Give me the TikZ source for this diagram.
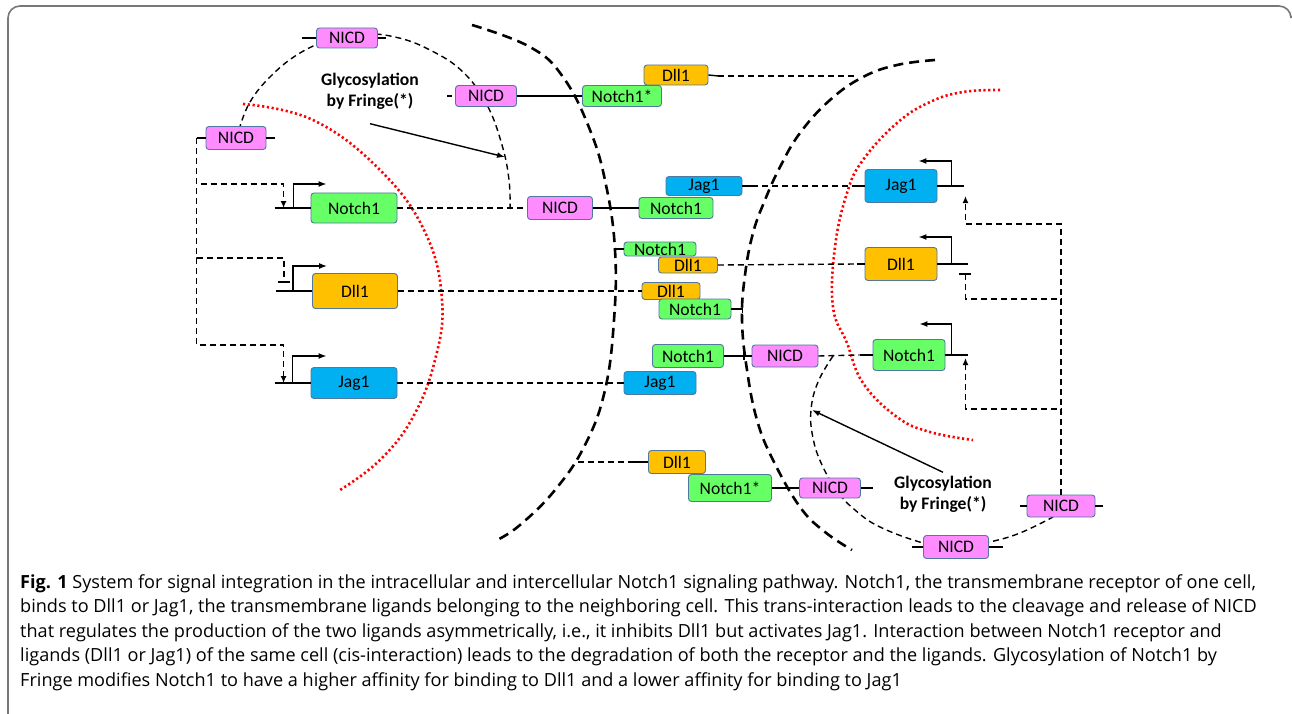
\documentclass[tikz,border=0pt]{standalone}
\usepackage{fontspec}
\setmainfont{Carlito}
\newfontfamily\capfont{Open Sans}
\usetikzlibrary{arrows.meta}

\definecolor{nicdpink}{RGB}{255,140,255}
\definecolor{notchgreen}{RGB}{102,255,102}
\definecolor{dllorange}{RGB}{255,192,0}
\definecolor{jagblue}{RGB}{0,176,240}
\definecolor{boxline}{RGB}{80,120,160}
\definecolor{framegray}{RGB}{120,120,120}

\tikzset{
  mol/.style={draw=boxline, line width=0.9pt, rounded corners=3pt, inner sep=0pt,
    font=\fontsize{17.6}{20}\selectfont},
  nicd/.style={mol, fill=nicdpink},
  notch/.style={mol, fill=notchgreen},
  dll/.style={mol, fill=dllorange},
  jag/.style={mol, fill=jagblue},
  dims/.style 2 args={minimum width=#1pt, minimum height=#2pt},
  link/.style={line width=1.4pt},
  sig/.style={line width=1.4pt, dash pattern=on 6pt off 4pt},
  membrane/.style={line width=2.6pt, dash pattern=on 10pt off 6pt},
  nucleus/.style={red, line width=2.6pt, dash pattern=on 2.2pt off 2.6pt},
  promoter/.style={line width=1.4pt, -{Latex[length=8pt,width=6pt]}},
  act/.style={sig, -{Latex[length=7pt,width=6pt]}},
  inh/.style={sig, -{Bar[width=12pt,line width=2pt]}},
  gly/.style={font=\fontsize{17.6}{21}\selectfont\bfseries, align=center},
}

\begin{document}
\begin{tikzpicture}[x=1pt, y=-1pt]
    \useasboundingbox (0,0) rectangle (1292,714);

    % Frame of the figure
    \draw[framegray, line width=1.6pt, rounded corners=12pt] (8,714) -- (8,6) -- (1291,6) -- (1291,16);

    % Nuclei as red dotted arcs
    \draw[nucleus] plot[smooth, tension=0.7] coordinates {(243,104) (313,120) (380,170) (425,232) (442,300) (435,360) (413,417) (380,460) (340,490)};
    \draw[nucleus] plot[smooth, tension=0.7] coordinates {(1000,90) (963,92) (930,102) (897,123) (863,160) (847,193) (835,247) (833,307) (847,343) (863,383) (897,417) (930,432) (973,440)};

    % Cell membranes
    \draw[membrane] plot[smooth, tension=0.7] coordinates {(472,25) (530,47) (563,77) (590,130) (606,185) (615,250) (614,320) (605,390) (585,445) (555,490) (520,525) (497,540)};
    \draw[membrane] plot[smooth, tension=0.7] coordinates {(935,60) (897,65) (863,77) (830,100) (800,133) (780,167) (765,200) (753,233) (745,275) (742,320) (747,370) (757,420) (773,460) (800,507) (825,532) (852,550)};

    % NICD loops through Fringe
    \draw[sig] plot[smooth, tension=0.7] coordinates {(239,130) (250,102) (272,75) (300,53) (330,40) (360,34) (395,37) (430,50) (463,72) (487,105) (502,145) (509,180) (510,209)};
    \draw[sig] plot[smooth, tension=0.7] coordinates {(833,356) (818,382) (811,410) (813,438) (822,465) (838,492) (855,510) (880,527) (923,543) (956,549) (990,542) (1020,533) (1053,517)};

    % Left cell
    \node[nicd, dims={61}{20}] (nicdTop) at (347,38) {NICD};
    \node[nicd, dims={60}{23}] (nicdL) at (236,138) {NICD};
    \node[notch, dims={86}{30}] (notchL) at (354,208) {Notch1};
    \node[dll, dims={85}{35}] (dllL) at (355,291) {Dll1};
    \node[jag, dims={86}{31}] (jagL) at (354,383) {Jag1};
    \node[gly] (glyL) at (370,91) {Glycosylation\\by Fringe(*)};
    \coordinate (glyTipL) at (505,157);

    % Between the cells
    \node[nicd, dims={61}{21}] (nicdG) at (486,96) {NICD};
    \node[notch, dims={79}{21}] (notchStarT) at (622,96) {Notch1*};
    \node[dll, dims={64}{20}] (dllT) at (676,75) {Dll1};
    \node[jag, dims={76}{19}] (jagM) at (704,186) {Jag1};
    \node[notch, dims={74}{21}] (notchM) at (676,208) {Notch1};
    \node[nicd, dims={65}{23}] (nicdM) at (560,208) {NICD};
    \node[notch, dims={72}{14}] (notchA) at (660,249) {Notch1};
    \node[dll, dims={59}{16}] (dllA) at (688,265) {Dll1};
    \node[dll, dims={58}{17}] (dllB) at (671,291) {Dll1};
    \node[notch, dims={72}{20}] (notchB) at (695,309) {Notch1};
    \node[notch, dims={71}{23}] (notchC) at (688,356) {Notch1};
    \node[nicd, dims={66}{22}] (nicdC) at (785,356) {NICD};
    \node[jag, dims={72}{23}] (jagB) at (660,383) {Jag1};
    \node[dll, dims={57}{23}] (dllBot) at (677,462) {Dll1};
    \node[notch, dims={83}{27}] (notchStarB) at (730,488) {Notch1*};
    \node[nicd, dims={61}{20}] (nicdBot) at (830,488) {NICD};
    \coordinate (memT) at (857,76);
    \coordinate (memL) at (578,462);

    % Right cell
    \node[jag, dims={72}{33}] (jagR) at (901,186) {Jag1};
    \node[dll, dims={72}{33}] (dllR) at (901,264) {Dll1};
    \node[notch, dims={72}{31}] (notchR) at (909,355) {Notch1};
    \node[nicd, dims={65}{23}] (nicdB) at (956,547) {NICD};
    \node[nicd, dims={68}{22}] (nicdBR) at (1061,506) {NICD};
    \node[gly] (glyR) at (943,494) {Glycosylation\\by Fringe(*)};
    \coordinate (glyTipR) at (812,410);

    % Stubs of the NICD boxes
    \draw[link] ([xshift=-14pt]nicdTop.west) -- (nicdTop.west);
    \draw[link] (nicdTop.east) -- ++(8,0);
    \coordinate (trunkL) at ([xshift=-9pt]nicdL.west);
    \draw[link] (trunkL) -- (nicdL.west);
    \draw[link] (nicdL.east) -- ++(9,0);
    \draw[link] ([xshift=-8pt]nicdG.west) -- ([xshift=-3pt]nicdG.west);
    \draw[link] (nicdBot.east) -- ++(12,0);
    \draw[link] ([xshift=-11pt]nicdB.west) -- (nicdB.west);
    \draw[link] (nicdB.east) -- ++(14,0);
    \draw[link] ([xshift=-7pt]nicdBR.west) -- (nicdBR.west);
    \draw[link] (nicdBR.east) -- ++(8,0);

    % Left genes and their promoters
    \draw[link] ([xshift=-36pt]notchL.west) -- (notchL.west);
    \draw[link] ([xshift=-36pt]dllL.west) -- (dllL.west);
    \draw[link] ([xshift=-36pt]jagL.west) -- (jagL.west);
    \draw[promoter] ([xshift=-17pt]notchL.west) -- ++(0,-24) -- ++(33,0);
    \draw[promoter] ([xshift=-19pt]dllL.west) -- ++(0,-25) -- ++(34,0);
    \draw[promoter] ([xshift=-18pt]jagL.west) -- ++(0,-27) -- ++(34,0);

    % NICD regulates the left genes
    \draw[act] (trunkL) |- ([xshift=-27pt,yshift=24pt]notchL.west) -- ([xshift=-27pt]notchL.west);
    \draw[inh] (trunkL) |- ([xshift=-28pt,yshift=33pt]dllL.west) -- ([xshift=-28pt,yshift=8pt]dllL.west);
    \draw[act] (trunkL) |- ([xshift=-27pt,yshift=38pt]jagL.west) -- ([xshift=-27pt]jagL.west);

    % Right genes and their promoters
    \draw[link] (jagR.east) -- ++(27,0);
    \draw[link] (dllR.east) -- ++(31,0);
    \draw[link] (notchR.east) -- ++(23,0);
    \draw[promoter] ([xshift=14pt]jagR.east) -- ++(0,-25) -- ++(-33,0);
    \draw[promoter] ([xshift=14pt]dllR.east) -- ++(0,-27) -- ++(-33,0);
    \draw[promoter] ([xshift=6pt]notchR.east) -- ++(0,-31) -- ++(-32,0);

    % NICD regulates the right genes
    \draw[act] (nicdBR.north) |- ([xshift=28pt,yshift=-38pt]jagR.east) -- ([xshift=28pt,yshift=-10pt]jagR.east);
    \draw[inh] (nicdBR.north) |- ([xshift=28pt,yshift=-35pt]dllR.east) -- ([xshift=28pt,yshift=-9pt]dllR.east);
    \draw[act] (nicdBR.north) |- ([xshift=20pt,yshift=-54pt]notchR.east) -- ([xshift=20pt,yshift=-3pt]notchR.east);

    % Trans and cis binding
    \draw[link] (nicdG.east) -- (notchStarT.west);
    \draw[link] (dllT.east) -- ++(10,1);
    \draw[sig] ([xshift=10pt,yshift=-1pt]dllT.east) -- (memT);
    \draw[sig] (notchL.east) -- (nicdM.west);
    \draw[link] (nicdM.east) -- (notchM.west);
    \draw[link] (jagM.east) -- ++(10,0);
    \draw[sig] ([xshift=10pt]jagM.east) -- ([xshift=-13pt]jagR.west);
    \draw[link] ([xshift=-13pt]jagR.west) -- (jagR.west);
    \draw[link] ([xshift=-10pt]notchA.west) -- (notchA.west);
    \draw[sig] (dllA.east) -- ([xshift=-8pt]dllR.west);
    \draw[link] ([xshift=-8pt]dllR.west) -- (dllR.west);
    \draw[sig] (dllL.east) -- (dllB.west);
    \draw[link] (notchB.east) -- ++(11,0) ++(0,-4) -- ++(0,8);
    \draw[link] (notchC.east) -- (nicdC.west);
    \draw[link] ([xshift=20pt,yshift=4pt]notchC.east) -- ++(0,8);
    \draw[sig] (nicdC.east) -- ([xshift=-13pt]notchR.west);
    \draw[link] ([xshift=-13pt]notchR.west) -- (notchR.west);
    \draw[sig] (jagL.east) -- ([xshift=-7pt]jagB.west);
    \draw[link] ([xshift=-7pt]jagB.west) -- (jagB.west);
    \draw[sig] (memL) -- ([xshift=-14pt]dllBot.west);
    \draw[link] ([xshift=-14pt]dllBot.west) -- (dllBot.west);
    \draw[link] (notchStarB.east) -- (nicdBot.west);

    % Glycosylation arrows
    \draw[link, -{Latex[length=8pt,width=6pt]}] ([yshift=-11pt]glyL.south) -- (glyTipL);
    \draw[link, -{Latex[length=8pt,width=6pt]}] (glyR.north) -- (glyTipR);

    % Caption
    \node[anchor=north west, align=left, inner sep=0pt, font=\capfont\fontsize{18.1}{24.6}\selectfont] (caption) at (20,574)
      {\textbf{Fig. 1} System for signal integration in the intracellular and intercellular Notch1 signaling pathway. Notch1, the transmembrane receptor of one cell,\\
       binds to Dll1 or Jag1, the transmembrane ligands belonging to the neighboring cell. This trans-interaction leads to the cleavage and release of NICD\\
       that regulates the production of the two ligands asymmetrically, i.e., it inhibits Dll1 but activates Jag1. Interaction between Notch1 receptor and\\
       ligands (Dll1 or Jag1) of the same cell (cis-interaction) leads to the degradation of both the receptor and the ligands. Glycosylation of Notch1 by\\
       Fringe modifies Notch1 to have a higher affinity for binding to Dll1 and a lower affinity for binding to Jag1};
\end{tikzpicture}
\end{document}
